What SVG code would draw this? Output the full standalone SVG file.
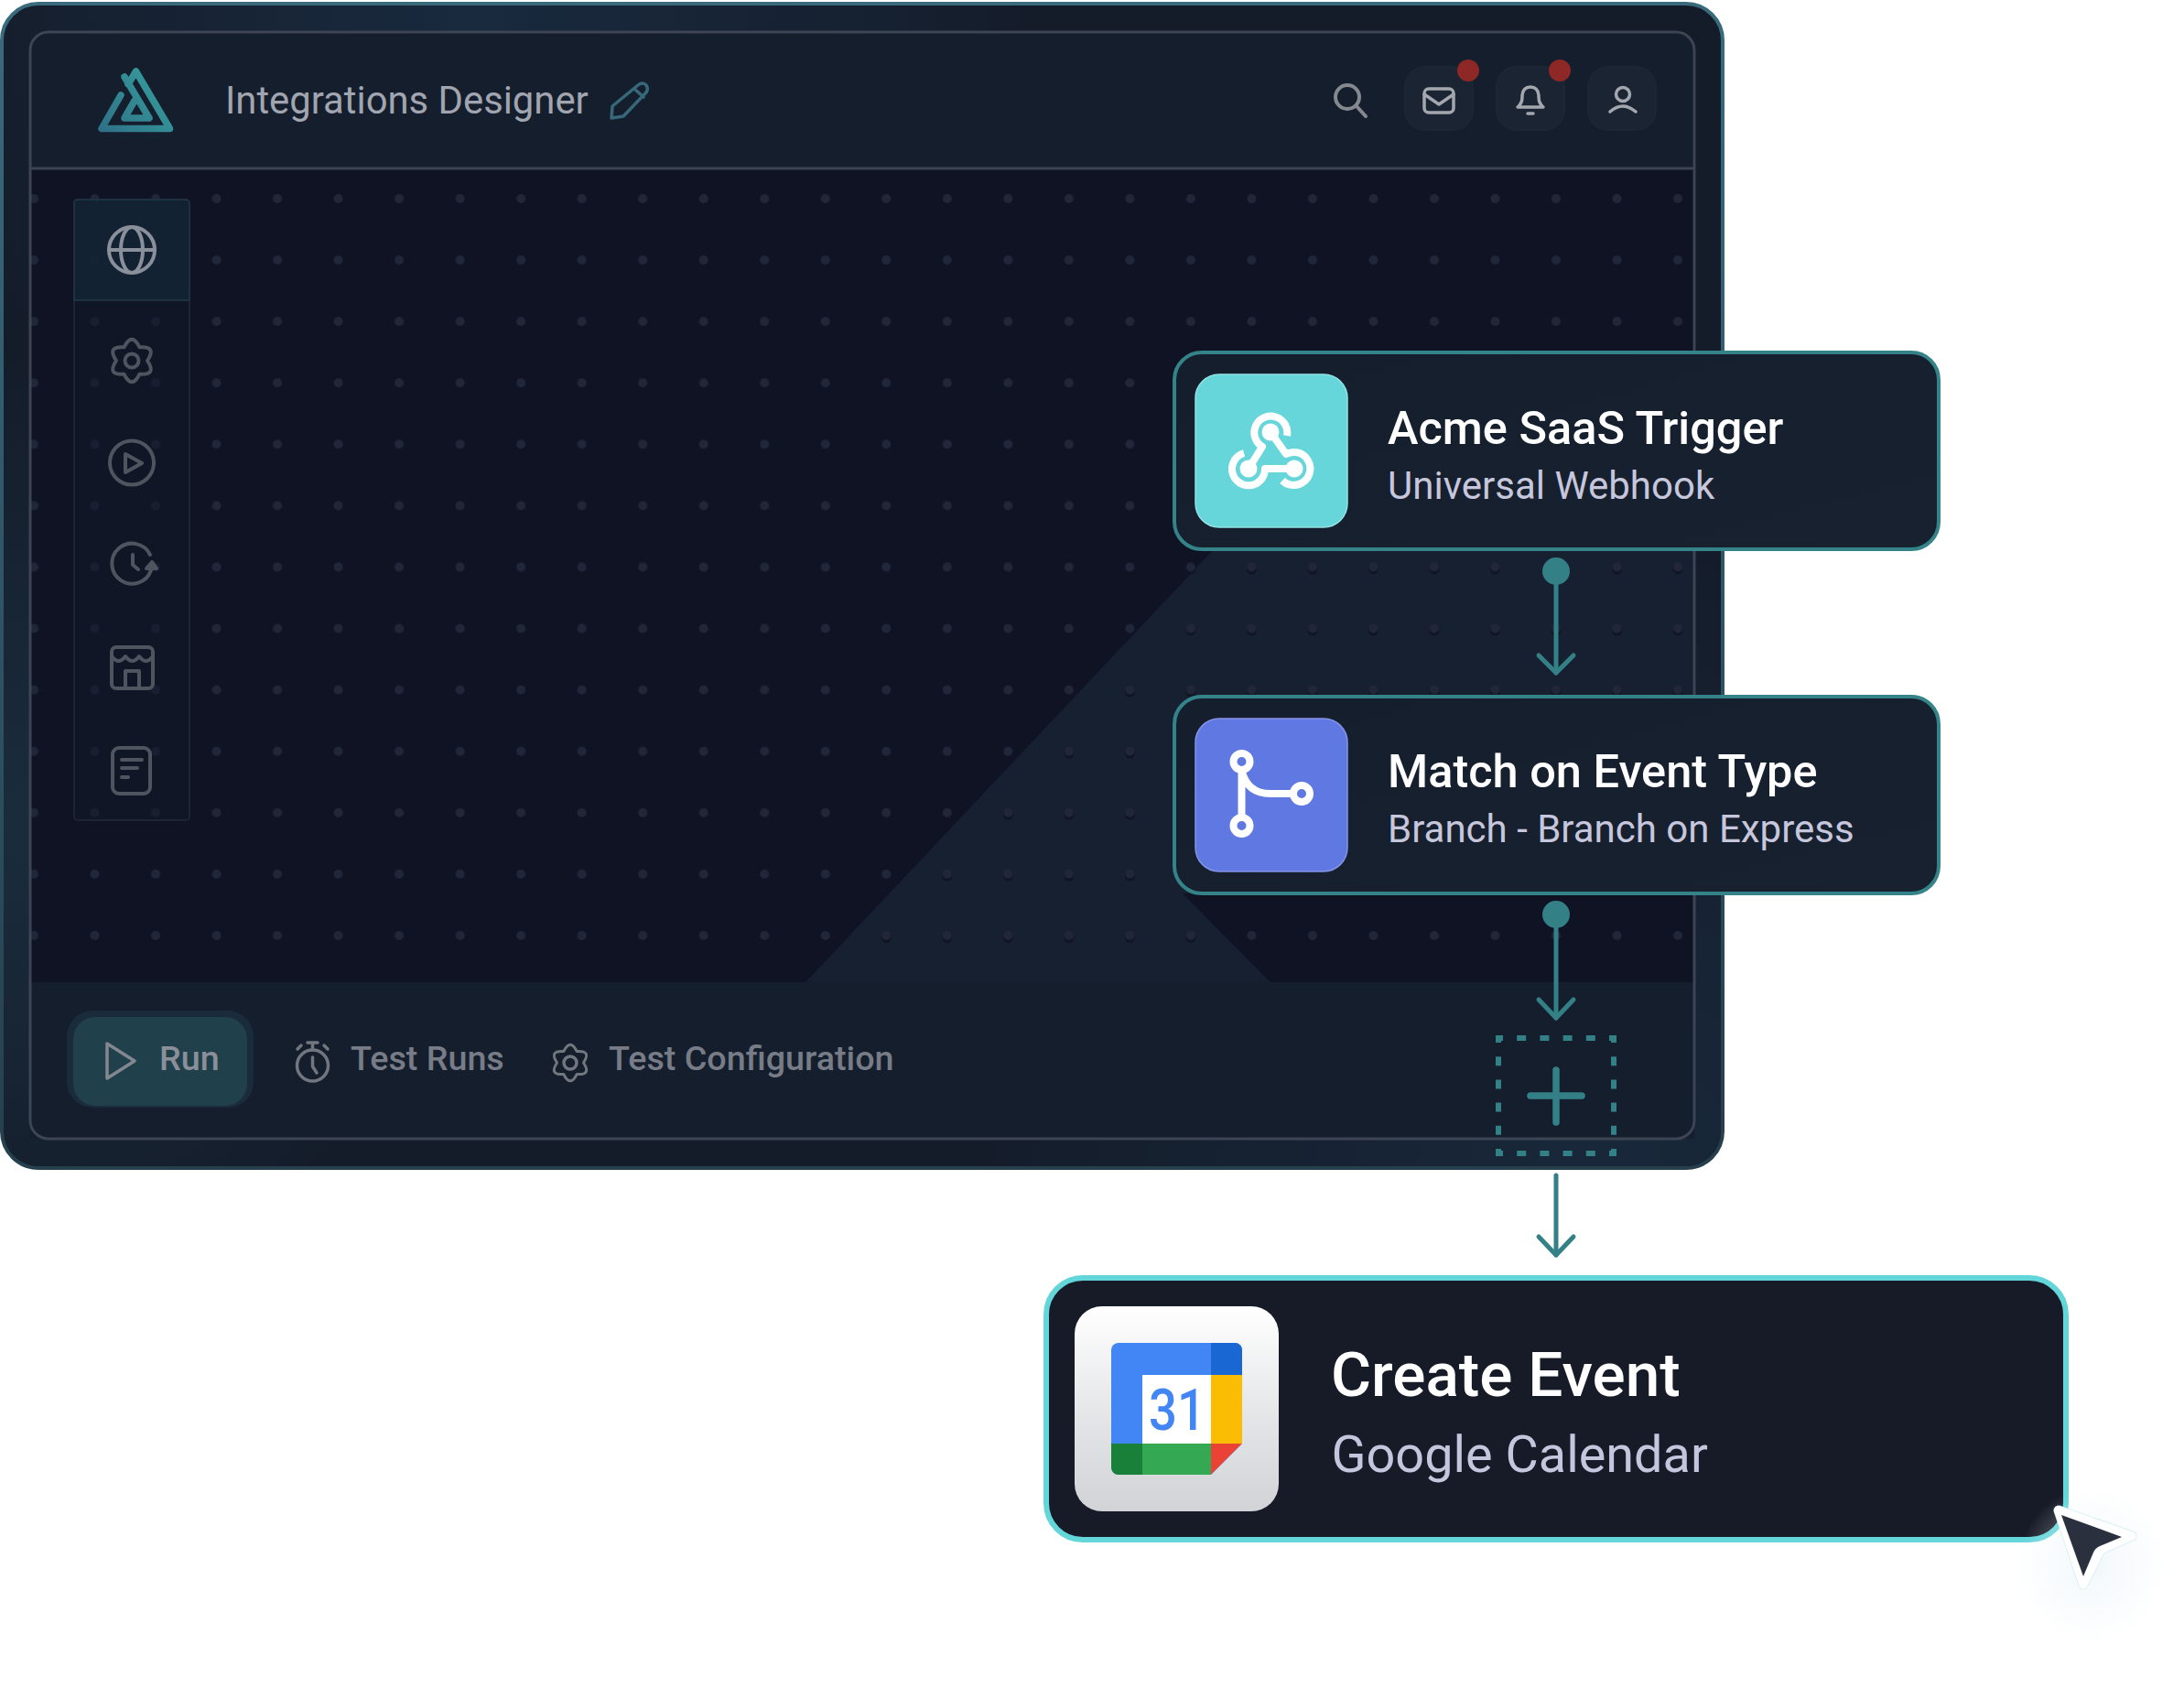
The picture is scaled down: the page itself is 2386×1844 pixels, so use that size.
<svg xmlns="http://www.w3.org/2000/svg" width="2386" height="1844" viewBox="0 0 2386 1844">
<style>
text{font-family:Roboto,"Liberation Sans",sans-serif}
.ttl{font-size:50.500px;font-weight:500;fill:#fff}
.sub{font-size:42px;fill:#c6c6dc}
.foot{font-size:37.700px;font-weight:500;fill:#777c86}
.ic{fill:none;stroke-linecap:round;stroke-linejoin:round}
.side{stroke:#50545e;stroke-width:4}
.top{stroke:#a4a7ae;stroke-width:3.500}
.btn{fill:#1a2433;stroke:#1d2635;stroke-width:2}
.card{fill:url(#cardFill);stroke:#338388;stroke-width:4}
.wh{fill:none;stroke:#fff;stroke-width:8;stroke-linejoin:round}
.conn{fill:none;stroke:#348087;stroke-width:5;stroke-linecap:round;stroke-linejoin:round}
</style>
<defs>
<linearGradient id="frameStroke" x1="0" y1="0" x2="0" y2="1"><stop offset="0" stop-color="#3a6b7d"/><stop offset="1" stop-color="#263f4d"/></linearGradient>
<radialGradient id="glowA" gradientUnits="userSpaceOnUse" cx="520" cy="20" r="620"><stop offset="0" stop-color="#192a3e"/><stop offset="1" stop-color="#192a3e" stop-opacity="0"/></radialGradient>
<radialGradient id="glowB" gradientUnits="userSpaceOnUse" cx="1750" cy="1270" r="700"><stop offset="0" stop-color="#18283a"/><stop offset="1" stop-color="#18283a" stop-opacity="0"/></radialGradient>
<radialGradient id="glowC" gradientUnits="userSpaceOnUse" cx="0" cy="900" r="520"><stop offset="0" stop-color="#1a2c3c"/><stop offset="1" stop-color="#1a2c3c" stop-opacity="0"/></radialGradient>
<linearGradient id="cardFill" x1="0" y1="0" x2="1" y2="1"><stop offset="0" stop-color="#151e2d"/><stop offset="1" stop-color="#18212f"/></linearGradient>
<linearGradient id="logoGrad" gradientUnits="userSpaceOnUse" x1="108" y1="144" x2="189" y2="75"><stop offset="0" stop-color="#2f6f86"/><stop offset="1" stop-color="#36a3a0"/></linearGradient>
<linearGradient id="gcalBg" x1="0" y1="0" x2="0" y2="1"><stop offset="0" stop-color="#fff"/><stop offset=".5" stop-color="#e6e7e9"/><stop offset="1" stop-color="#d2d3d6"/></linearGradient>
<radialGradient id="curShadow"><stop offset="0" stop-color="#e8f3f7" stop-opacity=".6"/><stop offset="1" stop-color="#e8f3f7" stop-opacity="0"/></radialGradient>
<pattern id="dots" patternUnits="userSpaceOnUse" x="3.740" y="183.460" width="66.520" height="67.080"><circle cx="33.260" cy="33.540" r="5" fill="#222639"/></pattern>
<pattern id="dotsShade" patternUnits="userSpaceOnUse" x="3.740" y="185.960" width="66.520" height="67.080"><circle cx="33.260" cy="33.540" r="5.500" fill="#0f1522"/></pattern>
<clipPath id="gcalClip"><path d="M1222 1467H1349a8 8 0 0 1 8 8V1577L1323 1611H1222a8 8 0 0 1-8-8V1475a8 8 0 0 1 8-8Z"/></clipPath>
<path id="gear" d="M-8.500-14.700Q0-32 8.500-14.700Q27.700-16 17 0Q27.700 16 8.500 14.700Q0 32-8.500 14.700Q-27.700 16-17 0Q-27.700-16-8.500-14.700Z"/>
</defs>

<g id="node-window">
<rect x="2" y="4" width="1880" height="1272" rx="40" fill="#141c2a" stroke="url(#frameStroke)" stroke-width="4"/>
<rect x="4" y="6" width="1876" height="1268" rx="38" fill="url(#glowA)"/>
<rect x="4" y="6" width="1876" height="1268" rx="38" fill="url(#glowB)"/>
<rect x="4" y="6" width="1876" height="1268" rx="38" fill="url(#glowC)"/>
<rect x="33" y="35" width="1818" height="1209" rx="20" fill="#141e2d"/>
<rect x="33" y="184" width="1818" height="889" fill="#0f1323"/>
<polygon points="880,1073 1326,600 1851,600 1851,976 1292,976 1388,1073" fill="#162030"/>
<rect x="33" y="186" width="1818" height="887" fill="url(#dotsShade)" clip-path="polygon(847px 887px,1293px 414px,1818px 414px,1818px 790px,1259px 790px,1355px 887px)"/>
<rect x="33" y="186" width="1818" height="887" fill="url(#dots)"/>
<rect x="33" y="1073" width="1818" height="171" fill="#141e2d"/>
<rect x="33" y="35" width="1818" height="1209" rx="20" fill="none" stroke="#3d4554" stroke-width="3"/>
<line x1="33" y1="184" x2="1851" y2="184" stroke="#3d4554" stroke-width="3"/>

<g id="logo">
<path d="M132 104L111 140.500H185.500L148.500 78L140 92M136 84L163 129H136L147 110" fill="none" stroke="url(#logoGrad)" stroke-width="7.500" stroke-linejoin="round" stroke-linecap="round"/>
</g>
<text x="246" y="124" font-size="41.800" fill="#a1a5af">Integrations Designer</text>
<path class="ic" d="M668 129L669 116L697 93Q702 89 706 93Q709 98 705 102L681 127ZM693 97L703 106" stroke="#37687a" stroke-width="3.500"/>

<g id="toolbar">
<g class="ic" stroke="#85898f" stroke-width="4"><circle cx="1472" cy="106" r="13"/><line x1="1482" y1="116" x2="1492" y2="127"/></g>
<rect class="btn" x="1535" y="73" width="74" height="69" rx="22"/>
<rect class="btn" x="1635" y="73" width="74" height="69" rx="22"/>
<rect class="btn" x="1735" y="73" width="74" height="69" rx="22"/>
<g class="ic top"><rect x="1556" y="97" width="32" height="26" rx="5"/><path d="M1556 103L1572 114L1588 103"/></g>
<g class="ic top"><path d="M1658 117Q1663 113 1663 106V104Q1664 95 1672 95Q1680 95 1681 104V106Q1681 113 1686 117Z"/><line x1="1669" y1="124" x2="1675" y2="124"/></g>
<g class="ic top"><circle cx="1773" cy="103" r="7.500"/><path d="M1759 122Q1773 110 1787 122"/></g>
<circle cx="1604" cy="77" r="12" fill="#8d2826"/>
<circle cx="1704" cy="77" r="12" fill="#8d2826"/>
</g>

<g id="sidebar">
<rect x="81" y="218" width="126" height="678" rx="4" fill="#131a29" fill-opacity=".55" stroke="#1e2433" stroke-width="2"/>
<path d="M81 328V222a4 4 0 0 1 4-4H203a4 4 0 0 1 4 4V328Z" fill="#142536" fill-opacity=".85" stroke="#1e3140" stroke-width="2"/>
<g class="ic" stroke="#8a8f9c" stroke-width="4"><circle cx="144" cy="273" r="25"/><ellipse cx="144" cy="273" rx="12" ry="25"/><line x1="119" y1="273" x2="169" y2="273"/></g>
<g class="ic side"><use href="#gear" transform="translate(144 394)"/><circle cx="144" cy="394" r="7.500"/></g>
<g class="ic side"><circle cx="144" cy="505.500" r="24"/><path d="M137 496V516L155 506Z"/></g>
<g class="ic side"><path d="M164 606A22 22 0 1 0 165 623"/><path d="M145 606V617L151 622"/><path d="M160 621H171L166 614Z" fill="#50545e"/></g>
<g class="ic side"><rect x="122" y="707" width="45" height="45" rx="5"/><path d="M122 717Q129.500 727 137 717Q144.500 727 152 717Q159.500 727 167 717M137 752V733H152V752"/></g>
<g class="ic side"><rect x="123" y="817" width="41" height="50" rx="7"/><path d="M133 830H155M133 839H150M133 849H140"/></g>
</g>

<g id="footer">
<rect x="73" y="1104" width="204" height="106" rx="28" fill="#1a2b3b"/>
<rect x="80" y="1111" width="190" height="97" rx="24" fill="#20414b"/>
<path class="ic" d="M117 1140V1178L147 1159Z" stroke="#828790" stroke-width="3.500"/>
<text class="foot" x="174" y="1169" style="fill:#8a8f9a">Run</text>
<g class="ic" stroke="#71767f" stroke-width="3.500"><circle cx="341.500" cy="1164" r="17"/><path d="M341.500 1147V1140M336 1139H347M341.500 1155V1165L346 1172M325 1146L329 1142M358 1146L354 1142"/></g>
<text class="foot" x="383" y="1169">Test Runs</text>
<g class="ic" stroke="#71767f" stroke-width="3.500"><use href="#gear" transform="translate(623 1161) scale(.85)"/><circle cx="623" cy="1161" r="7"/></g>
<text class="foot" x="665" y="1169">Test Configuration</text>
</g>
</g>

<g id="connectors">
<line class="conn" x1="1700" y1="624" x2="1700" y2="735"/>
<path class="conn" d="M1681 716L1700 735L1719 716"/>
<circle cx="1700" cy="624" r="15" fill="#348087"/>
<line class="conn" x1="1700" y1="999" x2="1700" y2="1112"/>
<path class="conn" d="M1681 1092L1700 1112L1719 1092"/>
<circle cx="1700" cy="999" r="15" fill="#348087"/>
<line class="conn" x1="1700" y1="1284" x2="1700" y2="1371"/>
<path class="conn" d="M1681 1351L1700 1371L1719 1351"/>
</g>

<g id="node-trigger">
<rect class="card" x="1283" y="385" width="835" height="215" rx="30"/>
<rect x="1306" y="409" width="166" height="167" rx="26" fill="#66d6da" stroke="#8fe3e5" stroke-width="1.500"/>
<g class="wh"><path d="M1406 476A18 18 0 1 0 1379 488L1364 512"/><path d="M1359 495A18 18 0 1 0 1382 512H1414"/><path d="M1401 525A18 18 0 1 0 1405 496L1388 472"/></g>
<circle cx="1388" cy="472" r="9.500" fill="#fff"/><circle cx="1364" cy="512" r="9.500" fill="#fff"/><circle cx="1414" cy="512" r="9.500" fill="#fff"/>
<text class="ttl" x="1516" y="485">Acme SaaS Trigger</text>
<text class="sub" x="1516" y="545">Universal Webhook</text>
</g>

<g id="node-branch">
<rect class="card" x="1283" y="761" width="835" height="215" rx="30"/>
<rect x="1306" y="785" width="166" height="167" rx="26" fill="#6078e2" stroke="#8494e8" stroke-width="1.500"/>
<g class="wh"><circle cx="1356.500" cy="832" r="9"/><circle cx="1356.500" cy="902" r="9"/><circle cx="1422" cy="867" r="9"/><path d="M1356.500 841V893M1356.500 841Q1362 867 1388 867H1413"/></g>
<text class="ttl" x="1516" y="860">Match on Event Type</text>
<text class="sub" x="1516" y="920">Branch - Branch on Express</text>
</g>

<g id="node-add">
<rect x="1637" y="1134" width="126" height="126" fill="none" stroke="#348087" stroke-width="6" stroke-dasharray="10 15.200" stroke-dashoffset="5"/>
<path d="M1700 1169V1226M1672 1197H1728" fill="none" stroke="#348087" stroke-width="7.500" stroke-linecap="round"/>
</g>

<g id="node-calendar">
<rect x="1143" y="1396" width="1114" height="286" rx="40" fill="#171b27" stroke="#63d6da" stroke-width="6"/>
<rect x="1174" y="1427" width="223" height="224" rx="30" fill="url(#gcalBg)"/>
<g clip-path="url(#gcalClip)">
<rect x="1214" y="1467" width="143" height="144" fill="#4285f4"/>
<rect x="1323" y="1467" width="34" height="35" fill="#1967d2"/>
<rect x="1323" y="1502" width="34" height="75" fill="#fbbc04"/>
<rect x="1248" y="1577" width="75" height="34" fill="#34a853"/>
<rect x="1214" y="1577" width="34" height="34" fill="#188038"/>
<polygon points="1323,1577 1357,1577 1323,1611" fill="#ea4335"/>
<rect x="1248" y="1502" width="75" height="75" fill="#fff"/>
</g>
<text x="1255" y="1562" font-size="63" font-weight="500" fill="#4285f4" textLength="62" lengthAdjust="spacingAndGlyphs">31</text>
<text x="1454" y="1525" font-size="67.500" font-weight="500" fill="#fff">Create Event</text>
<text x="1454.500" y="1608" font-size="55.800" fill="#c4c6de">Google Calendar</text>
</g>

<g id="cursor">
<ellipse cx="2285" cy="1710" rx="80" ry="85" fill="url(#curShadow)"/>
<polygon points="2249,1650 2329,1678 2295,1693 2276,1731" fill="#fff" stroke="#d4ecee" stroke-width="11" stroke-linejoin="round"/>
<polygon points="2249,1650 2329,1678 2295,1693 2276,1731" fill="#fff" stroke="#fff" stroke-width="9.500" stroke-linejoin="round"/>
<path d="M2252 1655L2318 1679L2294 1689Q2289 1691 2287 1696L2276 1722Z" fill="#2a303d"/>
</g>
</svg>
